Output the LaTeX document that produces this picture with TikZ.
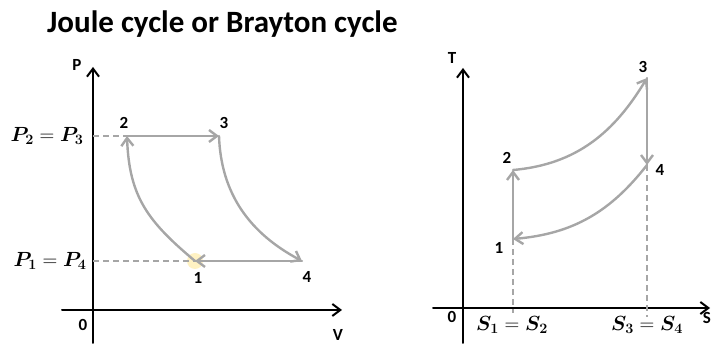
\RequirePackage{fix-cm}
\documentclass[tikz,border=0pt]{standalone}
\usepackage{fontspec}
\usepackage{amsmath}
\usepackage{bm}
\usepackage{tikz}
\usetikzlibrary{arrows.meta}
\newfontfamily\calib{Carlito}
\definecolor{curvegrey}{HTML}{A6A6A6}
\definecolor{glow}{HTML}{FFE27A}
\tikzset{
    every picture/.style={line cap=round,line join=round},
    axisline/.style={-{Straight Barb[length=8pt,width=12pt]},draw=black,line width=2pt},
    cycleline/.style={-{Straight Barb[length=8pt,width=12pt]},draw=curvegrey,line width=2.4pt},
    guide/.style={draw=curvegrey,line width=1.6pt,line cap=butt,dash pattern=on 6pt off 4pt},
    ptlabel/.style={font=\calib\bfseries\fontsize{17}{20}\selectfont,inner sep=0pt},
    eqlabel/.style={font=\fontsize{20.5}{24}\selectfont,inner sep=0pt}
}

\begin{document}
\begin{tikzpicture}[x=1pt,y=1pt]
  \useasboundingbox (0,0) rectangle (713,345);
  \node[anchor=base west,inner sep=0pt,font=\calib\bfseries\fontsize{31}{37}\selectfont]
    (title) at (47,312) {Joule cycle or Brayton cycle};

  % P-V diagram
  \coordinate (pvO) at (93,35);
  \coordinate (pvtop) at (93,278);
  \coordinate (pvbot) at (93,2);
  \coordinate (pvleft) at (62,35);
  \coordinate (pvright) at (342,35);
  \draw[axisline] (pvbot) -- (pvtop);
  \draw[axisline] (pvleft) -- (pvright);
  \node[ptlabel] (pvP) at (77,280) {P};
  \node[ptlabel] (pvV) at (338,10) {V};
  \node[ptlabel] (pvzero) at (83,20) {0};

  \coordinate (a1) at (195,84);
  \coordinate (a2) at (127,209);
  \coordinate (a3) at (219,209);
  \coordinate (a4) at (302,84);
  \fill[glow,opacity=0.45] (a1) circle (8);
  \draw[guide] (pvO |- a2) -- (a2);
  \draw[guide] (pvO |- a1) -- (a1);
  \draw[cycleline] (a1) to[out=140,in=-88,looseness=1.1] (a2);
  \draw[cycleline] (a2) -- (a3);
  \draw[cycleline] (a3) to[out=-88,in=152] (a4);
  \draw[cycleline] (a4) -- (a1);
  \node[ptlabel] (a1lab) at (198,67) {1};
  \node[ptlabel] (a2lab) at (124,222) {2};
  \node[ptlabel] (a3lab) at (224,222) {3};
  \node[ptlabel] (a4lab) at (307,68) {4};
  \node[eqlabel] (peqhi) at (47,209) {$\bm{P_2} = \bm{P_3}$};
  \node[eqlabel] (peqlo) at (50,84) {$\bm{P_1} = \bm{P_4}$};

  % T-S diagram
  \coordinate (tsO) at (463,37);
  \coordinate (tstop) at (463,277);
  \coordinate (tsbot) at (463,2);
  \coordinate (tsleft) at (433,37);
  \coordinate (tsright) at (710,37);
  \draw[axisline] (tsbot) -- (tstop);
  \draw[axisline] (tsleft) -- (tsright);
  \node[ptlabel] (tsT) at (452,287) {T};
  \node[ptlabel] (tsS) at (707,27) {S};
  \node[ptlabel] (tszero) at (452,28) {0};

  \coordinate (b1) at (513,106);
  \coordinate (b2) at (513,175);
  \coordinate (b3) at (647,267);
  \coordinate (b4) at (647,180);
  \coordinate (b1foot) at (513,32);
  \coordinate (b4foot) at (647,28);
  \draw[guide] (b1) -- (b1foot);
  \draw[guide] (b4) -- (b4foot);
  \draw[cycleline] (b1) -- (b2);
  \draw[cycleline] (b2) to[out=5,in=239] (b3);
  \draw[cycleline] (b3) -- (b4);
  \draw[cycleline] (b4) to[out=232,in=5] (b1);
  \node[ptlabel] (b1lab) at (499,97) {1};
  \node[ptlabel] (b2lab) at (507,187) {2};
  \node[ptlabel] (b3lab) at (643,278) {3};
  \node[ptlabel] (b4lab) at (660,175) {4};
  \node[eqlabel] (seqlo) at (512,20) {$\bm{S_1} = \bm{S_2}$};
  \node[eqlabel] (seqhi) at (647,20) {$\bm{S_3} = \bm{S_4}$};
\end{tikzpicture}
\end{document}
